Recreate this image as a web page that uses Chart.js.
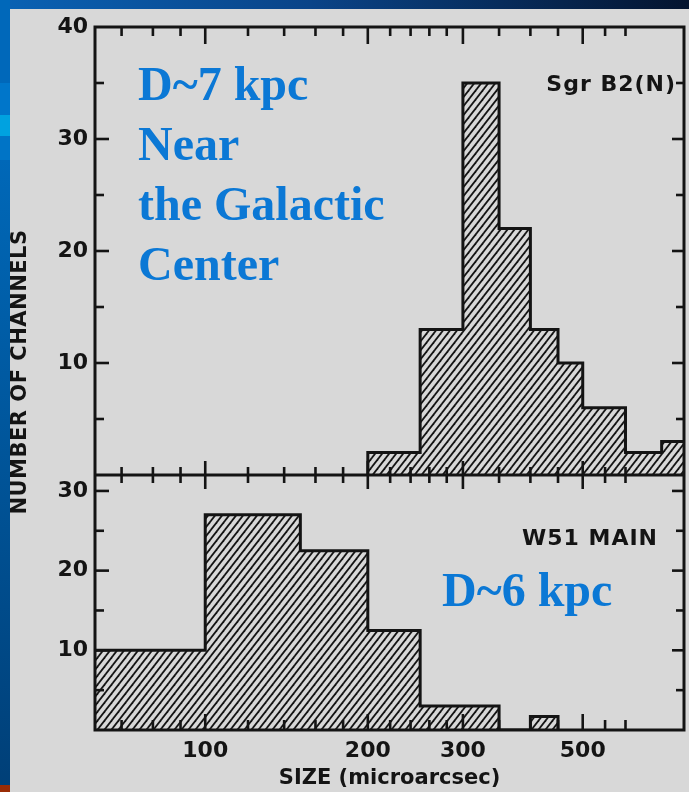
<!DOCTYPE html>
<html>
<head>
<meta charset="utf-8">
<script src="https://cdn.jsdelivr.net/npm/chart.js@4.4.1/dist/chart.umd.min.js"></script>
<style>
  html, body { margin: 0; padding: 0; background: #d8d8d8; overflow: hidden; }
  canvas { display: block; }
</style>
</head>
<body>
<canvas id="c" width="689" height="792"></canvas>
<script>
// Sgr B2(N): bin edges (microarcsec) and number of channels per bin
const sgrEdges  = [200, 250, 300, 350, 400, 450, 500, 600, 700, 800];
const sgrCounts = [2, 13, 35, 22, 13, 10, 6, 2, 3];

// W51 MAIN: bin edges (microarcsec) and number of channels per bin
const w51Edges  = [50, 100, 150, 200, 250, 300, 350, 400, 450];
const w51Counts = [10, 27, 22.5, 12.5, 3, 3, 0, 1.7];

// axis ticks
const xLabelTicks = [100, 200, 300, 500];
const xMinorTicks = [70, 80, 90, 120, 140, 160, 180, 220, 240, 260, 280, 350, 400, 450, 550, 600];
const topYLabels  = [10, 20, 30, 40];
const botYLabels  = [10, 20, 30];
const topYMarks   = [5, 10, 15, 20, 25, 30, 35];
const botYMarks   = [5, 10, 15, 20, 25, 30];

const INK = '#141414';
const BLUE = '#0b78d5';
const SANS = '"DejaVu Sans", sans-serif';

// histogram outline as a stepped path: rise at the first edge, fall at the last
function histPoints(edges, counts) {
  const pts = [{ x: edges[0], y: 0 }];
  counts.forEach((c, i) => pts.push({ x: edges[i], y: c }));
  pts.push({ x: edges[edges.length - 1], y: 0 });
  return pts;
}

// diagonal "/" hatching used to fill the histograms
function makeHatch(ctx) {
  const w = 7, h = 9;
  const tile = document.createElement('canvas');
  tile.width = w; tile.height = h;
  const g = tile.getContext('2d');
  g.strokeStyle = INK;
  g.lineWidth = 1.8;
  for (const off of [-w, 0, w]) {
    g.beginPath();
    g.moveTo(off - w, 2 * h);
    g.lineTo(off + 2 * w, -h);
    g.stroke();
  }
  return ctx.createPattern(tile, 'repeat');
}

const canvas = document.getElementById('c');
const hatch = makeHatch(canvas.getContext('2d'));

// slide backdrop: grey panel with a blue border strip on top and left
const backdrop = {
  id: 'backdrop',
  beforeDraw(chart) {
    const { ctx, width, height } = chart;
    ctx.save();
    ctx.fillStyle = '#d8d8d8';
    ctx.fillRect(0, 0, width, height);
    const topGrad = ctx.createLinearGradient(0, 0, width, 0);
    topGrad.addColorStop(0, '#0a62b4');
    topGrad.addColorStop(0.45, '#0a4488');
    topGrad.addColorStop(1, '#04142f');
    ctx.fillStyle = topGrad;
    ctx.fillRect(0, 0, width, 9);
    const leftGrad = ctx.createLinearGradient(0, 160, 0, height);
    leftGrad.addColorStop(0, '#0068b8');
    leftGrad.addColorStop(1, '#003f77');
    ctx.fillStyle = leftGrad;
    ctx.fillRect(0, 0, 10, height);
    ctx.fillStyle = '#0068ba'; ctx.fillRect(0, 0, 10, 83);
    ctx.fillStyle = '#0076ca'; ctx.fillRect(0, 83, 10, 32);
    ctx.fillStyle = '#00a2e0'; ctx.fillRect(0, 115, 10, 21);
    ctx.fillStyle = '#0074c6'; ctx.fillRect(0, 136, 10, 24);
    ctx.fillStyle = '#9a2c05'; ctx.fillRect(0, 785, 10, 7);
    ctx.restore();
  }
};

// boxed frame with inward tick marks on all sides and the shared middle axis
const frameTicks = {
  id: 'frameTicks',
  afterDatasetsDraw(chart) {
    const { ctx, chartArea: a, scales } = chart;
    const xs = scales.x, yT = scales.yTop, yB = scales.yBot;
    const mid = yT.bottom;
    const seg = (x1, y1, x2, y2) => { ctx.beginPath(); ctx.moveTo(x1, y1); ctx.lineTo(x2, y2); ctx.stroke(); };
    ctx.save();
    ctx.strokeStyle = INK;
    ctx.lineCap = 'butt';
    ctx.lineWidth = 3;
    ctx.strokeRect(a.left, a.top, a.right - a.left, a.bottom - a.top);
    seg(a.left, mid, a.right, mid);

    ctx.lineWidth = 2.6;
    const xTick = (v, major) => {
      const px = xs.getPixelForValue(v);
      seg(px, a.top, px, a.top + (major ? 17 : 9));
      seg(px, mid - (major ? 14 : 8), px, mid + (major ? 14 : 8));
      seg(px, a.bottom, px, a.bottom - (major ? 16 : 10));
    };
    xLabelTicks.forEach(v => xTick(v, true));
    xMinorTicks.forEach(v => xTick(v, false));

    const yTick = (scale, v) => {
      const py = scale.getPixelForValue(v);
      const major = v % 10 === 0;
      seg(a.left, py, a.left + (major ? 14 : 9), py);
      seg(a.right, py, a.right - (major ? 12 : 8), py);
    };
    topYMarks.forEach(v => yTick(yT, v));
    botYMarks.forEach(v => yTick(yB, v));
    ctx.restore();
  },
  afterDraw(chart) {
    const { ctx } = chart;
    ctx.save();
    ctx.fillStyle = INK;
    ctx.textBaseline = 'alphabetic';
    ctx.font = 'bold 22px ' + SANS;
    ctx.letterSpacing = '1px';
    ctx.textAlign = 'right';
    ctx.fillText('Sgr B2(N)', 676, 91);
    ctx.fillText('W51 MAIN', 658, 545);

    ctx.save();
    ctx.translate(21, 372);
    ctx.rotate(-Math.PI / 2);
    ctx.textAlign = 'center';
    ctx.textBaseline = 'middle';
    ctx.font = 'bold 21px ' + SANS;
    ctx.letterSpacing = '0.5px';
    ctx.fillText('NUMBER OF CHANNELS', 0, 0);
    ctx.restore();

    ctx.fillStyle = BLUE;
    ctx.letterSpacing = '0px';
    ctx.textAlign = 'left';
    ctx.font = 'bold 48px "Liberation Serif", serif';
    ['D~7 kpc', 'Near', 'the Galactic', 'Center'].forEach((t, i) => ctx.fillText(t, 138, 100 + i * 60));
    ctx.fillText('D~6 kpc', 442, 606);
    ctx.restore();
  }
};

const tickFont = { family: SANS, size: 22, weight: 'bold' };

new Chart(canvas, {
  type: 'line',
  data: {
    datasets: [
      {
        label: 'Sgr B2(N)',
        data: histPoints(sgrEdges, sgrCounts),
        yAxisID: 'yTop',
        stepped: 'before',
        borderColor: INK,
        borderWidth: 3,
        backgroundColor: hatch,
        fill: 'origin',
        pointRadius: 0,
        tension: 0
      },
      {
        label: 'W51 MAIN',
        data: histPoints(w51Edges, w51Counts),
        yAxisID: 'yBot',
        stepped: 'before',
        borderColor: INK,
        borderWidth: 3,
        backgroundColor: hatch,
        fill: 'origin',
        pointRadius: 0,
        tension: 0
      }
    ]
  },
  options: {
    responsive: false,
    animation: false,
    devicePixelRatio: 1,
    layout: { padding: { top: 27, right: 5, left: 0, bottom: 0 } },
    plugins: { legend: { display: false }, tooltip: { enabled: false } },
    scales: {
      x: {
        type: 'logarithmic',
        position: 'bottom',
        min: 62.5,
        max: 770,
        afterBuildTicks: s => { s.ticks = xLabelTicks.map(v => ({ value: v })); },
        afterFit: s => { s.height = 62; },
        grid: { display: false, drawTicks: false },
        border: { display: false },
        ticks: {
          autoSkip: false, maxRotation: 0, padding: 8, color: INK, font: tickFont,
          callback: v => String(v)
        },
        title: {
          display: true, text: 'SIZE (microarcsec)', color: INK,
          font: { family: SANS, size: 21, weight: 'bold' },
          padding: { top: 0, bottom: 1 }
        }
      },
      yBot: {
        type: 'linear',
        position: 'left',
        stack: 'channels',
        stackWeight: 255,
        min: 0,
        max: 32,
        afterBuildTicks: s => { s.ticks = botYLabels.map(v => ({ value: v })); },
        afterFit: s => { s.width = 95; },
        grid: { display: false, drawTicks: false },
        border: { display: false },
        ticks: { padding: 7, color: INK, font: tickFont }
      },
      yTop: {
        type: 'linear',
        position: 'left',
        stack: 'channels',
        stackWeight: 448,
        min: 0,
        max: 40,
        afterBuildTicks: s => { s.ticks = topYLabels.map(v => ({ value: v })); },
        afterFit: s => { s.width = 95; },
        grid: { display: false, drawTicks: false },
        border: { display: false },
        ticks: { padding: 7, color: INK, font: tickFont }
      }
    }
  },
  plugins: [backdrop, frameTicks]
});
</script>
</body>
</html>
